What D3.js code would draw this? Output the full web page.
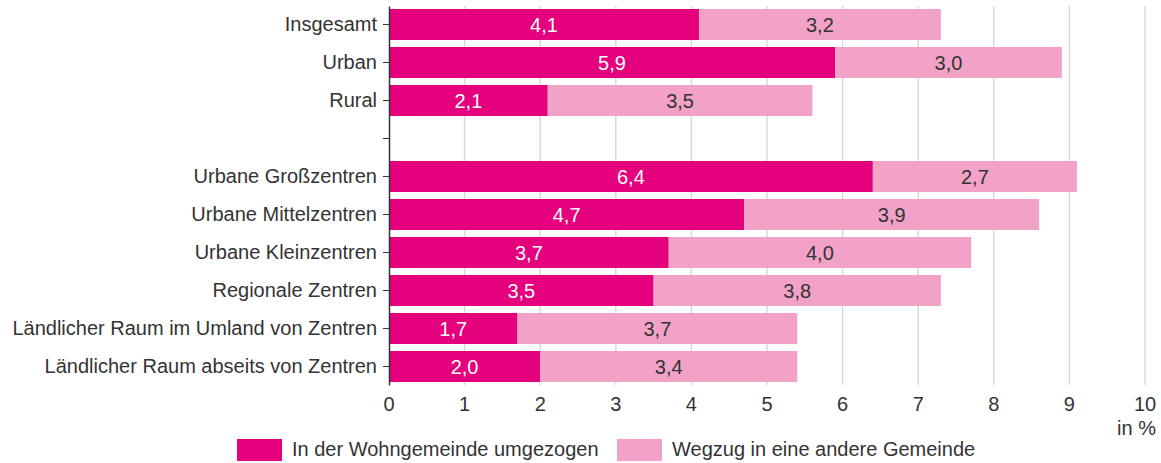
<!DOCTYPE html>
<html>
<head>
<meta charset="utf-8">
<style>
    body { margin: 0; background: #fff; }
    svg { font-family: "Liberation Sans", Arial, sans-serif; }
    .grid line { stroke: #d9d9d9; stroke-width: 1.5; }
    .y .tick text { font-size: 20px; fill: #333; }
    .y .tick line { stroke: #333; }
    .y .domain { stroke: #333; stroke-width: 1.5; }
    .xlab { font-size: 20px; fill: #333; }
    .val { font-size: 20px; }
    .legend text { font-size: 20px; fill: #333; }
</style>
</head>
<body>
<svg width="1161" height="463"></svg>
<script src="https://d3js.org/d3.v7.min.js"></script>
<script>
    let categories = [
        "Insgesamt",
        "Urban",
        "Rural",
        " ",
        "Urbane Großzentren",
        "Urbane Mittelzentren",
        "Urbane Kleinzentren",
        "Regionale Zentren",
        "Ländlicher Raum im Umland von Zentren",
        "Ländlicher Raum abseits von Zentren"
    ]
    let within = [4.1, 5.9, 2.1, null, 6.4, 4.7, 3.7, 3.5, 1.7, 2.0]
    let away = [3.2, 3.0, 3.5, null, 2.7, 3.9, 4.0, 3.8, 3.7, 3.4]
    let seriesNames = ["In der Wohngemeinde umgezogen", "Wegzug in eine andere Gemeinde"]
    let colors = ["#e5007d", "#f2a2c6"]
    let xTicks = [0, 1, 2, 3, 4, 5, 6, 7, 8, 9, 10]

    let svg = d3.select("svg")
    let margin = { top: 6, left: 389, right: 16, bottom: 78 }
    let width = 1161, height = 463

    let x = d3.scaleLinear().domain([0, 10]).range([margin.left, 1145])
    let y = d3.scaleBand().domain(categories).range([margin.top, height - margin.bottom])
        .paddingInner(0.184).paddingOuter(0.079)

    // gridlines
    svg.append("g").attr("class", "grid")
        .selectAll("line")
        .data(xTicks.slice(1))
        .join("line")
        .attr("x1", d => x(d)).attr("x2", d => x(d))
        .attr("y1", margin.top).attr("y2", height - margin.bottom)

    let fmt = v => d3.format(".1f")(v).replace(".", ",")

    let rows = categories.map((c, i) => ({ c, a: within[i], b: away[i] })).filter(d => d.a != null)

    // dark segments
    svg.append("g").selectAll("rect")
        .data(rows).join("rect")
        .attr("x", x(0)).attr("y", d => y(d.c))
        .attr("width", d => x(d.a) - x(0)).attr("height", y.bandwidth())
        .attr("fill", colors[0])
    svg.append("g").selectAll("rect")
        .data(rows).join("rect")
        .attr("x", d => x(d.a)).attr("y", d => y(d.c))
        .attr("width", d => x(d.a + d.b) - x(d.a)).attr("height", y.bandwidth())
        .attr("fill", colors[1])

    svg.append("g").selectAll("text")
        .data(rows).join("text")
        .attr("class", "val")
        .attr("x", d => x(d.a / 2)).attr("y", d => y(d.c) + y.bandwidth() / 2)
        .attr("dy", "0.36em").attr("text-anchor", "middle")
        .attr("fill", "#fff")
        .text(d => fmt(d.a))
    svg.append("g").selectAll("text")
        .data(rows).join("text")
        .attr("class", "val")
        .attr("x", d => x(d.a + d.b / 2)).attr("y", d => y(d.c) + y.bandwidth() / 2)
        .attr("dy", "0.36em").attr("text-anchor", "middle")
        .attr("fill", "#333")
        .text(d => fmt(d.b))

    // y axis
    svg.append("g").attr("class", "y")
        .attr("transform", `translate(${x(0)},0)`)
        .call(d3.axisLeft(y).tickSize(6).tickPadding(6).tickSizeOuter(0))

    // x labels
    svg.append("g").selectAll("text")
        .data(xTicks).join("text")
        .attr("class", "xlab")
        .attr("x", d => x(d)).attr("y", 411)
        .attr("text-anchor", "middle")
        .text(d => d)
    svg.append("text").attr("class", "xlab")
        .attr("x", 1156).attr("y", 435).attr("text-anchor", "end")
        .text("in %")

    // legend
    let lx = [237, 617]
    let lg = svg.append("g").attr("class", "legend")
    lg.selectAll("rect").data(seriesNames).join("rect")
        .attr("x", (d, i) => lx[i]).attr("y", 439)
        .attr("width", 45).attr("height", 22)
        .attr("fill", (d, i) => colors[i])
    lg.selectAll("text").data(seriesNames).join("text")
        .attr("x", (d, i) => lx[i] + 55).attr("y", 456)
        .text(d => d)
</script>
</body>
</html>
